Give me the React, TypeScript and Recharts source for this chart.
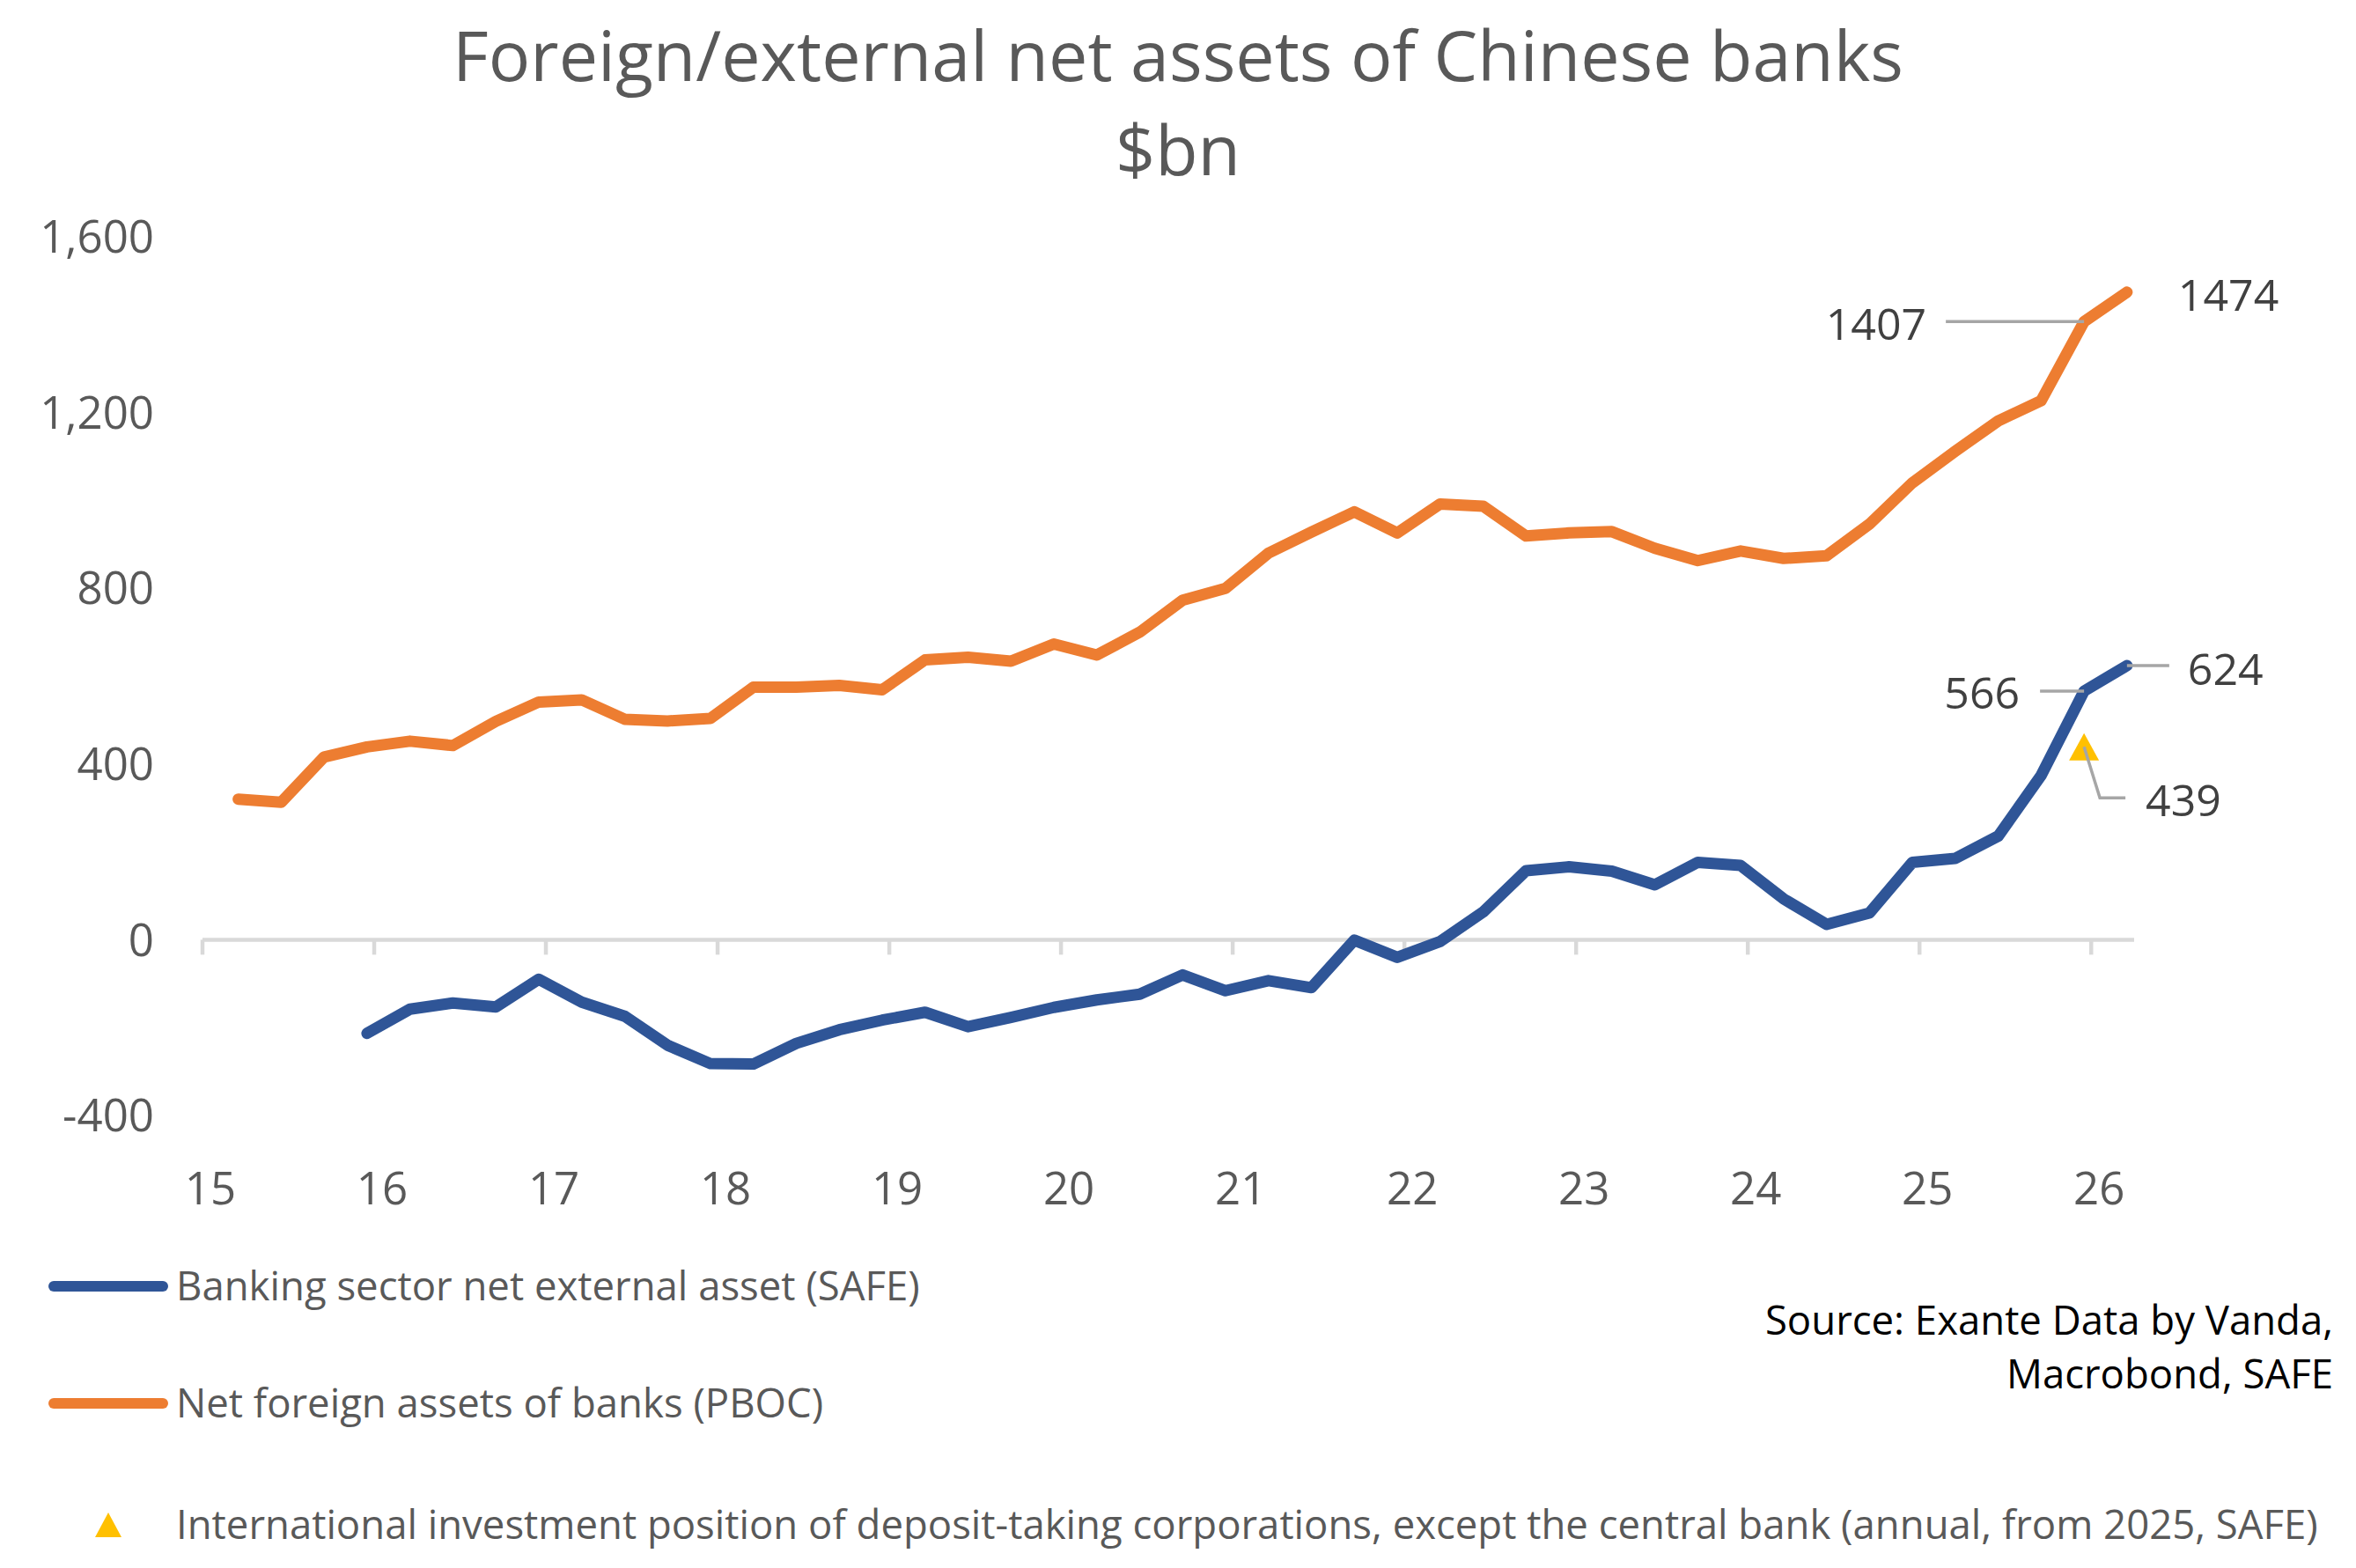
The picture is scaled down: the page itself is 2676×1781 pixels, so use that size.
import React from 'react';
import { ComposedChart, Line, XAxis, YAxis, ReferenceLine } from 'recharts';

// quarter-end months, $bn
const quarterEnds = [
  '2015-03', '2015-06', '2015-09', '2015-12',
  '2016-03', '2016-06', '2016-09', '2016-12',
  '2017-03', '2017-06', '2017-09', '2017-12',
  '2018-03', '2018-06', '2018-09', '2018-12',
  '2019-03', '2019-06', '2019-09', '2019-12',
  '2020-03', '2020-06', '2020-09', '2020-12',
  '2021-03', '2021-06', '2021-09', '2021-12',
  '2022-03', '2022-06', '2022-09', '2022-12',
  '2023-03', '2023-06', '2023-09', '2023-12',
  '2024-03', '2024-06', '2024-09', '2024-12',
  '2025-03', '2025-06', '2025-09', '2025-12',
  '2026-03',
];

const pbocNfa = [
  320, 313, 416, 439,
  452, 442, 497, 541,
  546, 502, 498, 504,
  575, 575, 579, 569,
  637, 643, 634, 673,
  648, 700, 773, 800,
  880, 928, 974, 926,
  992, 987, 919, 926,
  929, 891, 863, 885,
  868, 874, 946, 1040,
  1112, 1181, 1227, 1407,
  1474,
];

const safeNea = [
  null, null, null, -213,
  -158, -144, -153, -90,
  -142, -174, -240, -282,
  -283, -236, -205, -183,
  -165, -198, -177, -154,
  -137, -124, -80, -116,
  -93, -109, -1, -40,
  -4, 63, 157, 166,
  156, 125, 176, 169,
  93, 35, 61, 176,
  185, 236, 374, 566,
  624,
];

const iipDates = ['2025-12'];
const iipValues = [439];

const yearTicks = [15, 16, 17, 18, 19, 20, 21, 22, 23, 24, 25, 26];
const valueTicks = [-400, 0, 400, 800, 1200, 1600];

const pbocLabelled = ['2025-12', '2026-03'];
const safeLabelled = ['2025-12', '2026-03'];

// Excel monthly date axis: each month gets a slot, points sit mid-slot
const toT = (d: string) => {
  const [y, m] = d.split('-').map(Number);
  return y - 2000 + (m - 1) / 12 + 1 / 24;
};

const rows = quarterEnds.map((d, i) => {
  const k = iipDates.indexOf(d);
  return {
    date: d,
    t: toT(d),
    pboc: pbocNfa[i],
    safe: safeNea[i],
    iip: k >= 0 ? iipValues[k] : null,
  };
});

const W = 2660;
const H = 1765;
const FONT = '"Open Sans", "DejaVu Sans", sans-serif';
const BLUE = '#2f5597';
const ORANGE = '#ed7d31';
const GOLD = '#ffc000';
const AXIS = '#d9d9d9';
const LEADER = '#a6a6a6';
const LABEL = '#404040';
const TICK = '#595959';
const TICK_FS = 51;
const ANN_FS = 50;
const LEG_FS = 45.5;
const TITLE_FS = 79;

const base = (center: number, fs: number) => center + 0.357 * fs;

const fmt = (v: number) => v.toLocaleString('en-US');

const renderYearTick = (props: any) => {
  const { x, y, payload } = props;
  return (
    <text x={x + 9} y={base(y + 83, TICK_FS)} textAnchor="middle" fill={TICK} fontSize={TICK_FS} fontFamily={FONT}>
      {payload.value}
    </text>
  );
};

const renderPbocLabel = (props: any) => {
  const { x, y, index } = props;
  const d = quarterEnds[index];
  if (x == null || y == null || !pbocLabelled.includes(d)) return <g />;
  const v = pbocNfa[index];
  if (d === '2025-12') {
    return (
      <g key={`pl-${index}`}>
        <line x1={x - 157} y1={y} x2={x} y2={y} stroke={LEADER} strokeWidth={3.5} />
        <text x={x - 179} y={base(y + 3, ANN_FS)} textAnchor="end" fill={LABEL} fontSize={ANN_FS} fontFamily={FONT}>
          {v}
        </text>
      </g>
    );
  }
  return (
    <g key={`pl-${index}`}>
      <text x={x + 58} y={base(y + 3, ANN_FS)} textAnchor="start" fill={LABEL} fontSize={ANN_FS} fontFamily={FONT}>
        {v}
      </text>
    </g>
  );
};

const renderSafeLabel = (props: any) => {
  const { x, y, index } = props;
  const d = quarterEnds[index];
  if (x == null || y == null || !safeLabelled.includes(d)) return <g />;
  const v = safeNea[index];
  if (d === '2025-12') {
    return (
      <g key={`sl-${index}`}>
        <line x1={x - 50} y1={y} x2={x} y2={y} stroke={LEADER} strokeWidth={3.5} />
        <text x={x - 73} y={base(y + 2, ANN_FS)} textAnchor="end" fill={LABEL} fontSize={ANN_FS} fontFamily={FONT}>
          {v}
        </text>
      </g>
    );
  }
  return (
    <g key={`sl-${index}`}>
      <line x1={x} y1={y} x2={x + 48} y2={y} stroke={LEADER} strokeWidth={3.5} />
      <text x={x + 69} y={base(y + 4, ANN_FS)} textAnchor="start" fill={LABEL} fontSize={ANN_FS} fontFamily={FONT}>
        {v}
      </text>
    </g>
  );
};

const renderIipLabel = (props: any) => {
  const { x, y, value, index } = props;
  if (x == null || y == null || value == null) return <g />;
  return (
    <g key={`il-${index}`}>
      <polyline
        points={`${x},${y} ${x + 18},${y + 58} ${x + 47},${y + 58}`}
        fill="none"
        stroke={LEADER}
        strokeWidth={3.5}
      />
      <text x={x + 70} y={base(y + 61, ANN_FS)} textAnchor="start" fill={LABEL} fontSize={ANN_FS} fontFamily={FONT}>
        {value}
      </text>
    </g>
  );
};

const triangle = (cx: number, cy: number, w: number, h: number) =>
  `${cx - w / 2},${cy + h / 2} ${cx + w / 2},${cy + h / 2} ${cx},${cy - h / 2}`;

const renderTriangle = (props: any) => {
  const { cx, cy, value, index } = props;
  if (cx == null || cy == null || value == null) return <g key={`tri-${index}`} />;
  return <polygon key={`tri-${index}`} points={triangle(cx, cy, 34, 31)} fill={GOLD} />;
};

export default function App() {
  return (
    <div style={{ position: 'relative', width: W, height: H, background: '#fff', fontFamily: FONT }}>
      <ComposedChart
        width={W}
        height={H}
        data={rows}
        margin={{ top: 261, right: 244, bottom: 386, left: 72 }}
        style={{ fontFamily: FONT }}
      >
        <XAxis
          dataKey="t"
          type="number"
          domain={[15, 26.25]}
          ticks={yearTicks}
          interval={0}
          allowDataOverflow
          axisLine={false}
          tickLine={false}
          tickSize={0}
          tickMargin={0}
          height={120}
          tick={renderYearTick}
        />
        <YAxis
          type="number"
          domain={[-400, 1600]}
          ticks={valueTicks}
          interval={0}
          axisLine={false}
          tickLine={false}
          tickSize={0}
          tickMargin={55}
          width={150}
          tick={{ fill: TICK, fontSize: TICK_FS, fontFamily: FONT }}
          tickFormatter={fmt}
        />
        <ReferenceLine y={0} stroke={AXIS} strokeWidth={4.5} />
        {yearTicks.map((yr) => (
          <ReferenceLine
            key={yr}
            segment={[
              { x: yr, y: 0 },
              { x: yr, y: -34 },
            ]}
            stroke={AXIS}
            strokeWidth={4.5}
          />
        ))}
        <Line
          dataKey="pboc"
          name="Net foreign assets of banks (PBOC)"
          stroke={ORANGE}
          strokeWidth={13}
          strokeLinejoin="round"
          strokeLinecap="round"
          dot={false}
          activeDot={false}
          label={renderPbocLabel}
          isAnimationActive={false}
        />
        <Line
          dataKey="safe"
          name="Banking sector net external asset (SAFE)"
          stroke={BLUE}
          strokeWidth={13}
          strokeLinejoin="round"
          strokeLinecap="round"
          dot={false}
          activeDot={false}
          label={renderSafeLabel}
          isAnimationActive={false}
        />
        <Line
          dataKey="iip"
          name="International investment position"
          stroke="none"
          dot={renderTriangle}
          activeDot={false}
          label={renderIipLabel}
          isAnimationActive={false}
        />
      </ComposedChart>

      <svg
        width={W}
        height={H}
        style={{ position: 'absolute', left: 0, top: 0, pointerEvents: 'none' }}
        fontFamily={FONT}
      >
        <text x={1330} y={base(56, TITLE_FS)} textAnchor="middle" fontSize={TITLE_FS} fill={TICK}>
          Foreign/external net assets of Chinese banks
        </text>
        <text x={1330} y={base(163, TITLE_FS)} textAnchor="middle" fontSize={TITLE_FS} fill={TICK}>
          $bn
        </text>

        <line x1={53} y1={1453} x2={177} y2={1453} stroke={BLUE} strokeWidth={12} strokeLinecap="round" />
        <text x={192} y={base(1453, LEG_FS)} fontSize={LEG_FS} fill={TICK}>
          Banking sector net external asset (SAFE)
        </text>
        <line x1={53} y1={1586} x2={177} y2={1586} stroke={ORANGE} strokeWidth={12} strokeLinecap="round" />
        <text x={192} y={base(1586, LEG_FS)} fontSize={LEG_FS} fill={TICK}>
          Net foreign assets of banks (PBOC)
        </text>
        <polygon points={triangle(115, 1724, 30, 28)} fill={GOLD} />
        <text x={192} y={base(1724, LEG_FS)} fontSize={LEG_FS} fill={TICK}>
          International investment position of deposit-taking corporations, except the central bank (annual, from 2025, SAFE)
        </text>

        <text x={2642} y={base(1492, LEG_FS)} textAnchor="end" fontSize={LEG_FS} fill="#000">
          Source: Exante Data by Vanda,
        </text>
        <text x={2642} y={base(1553, LEG_FS)} textAnchor="end" fontSize={LEG_FS} fill="#000">
          Macrobond, SAFE
        </text>
      </svg>
    </div>
  );
}
